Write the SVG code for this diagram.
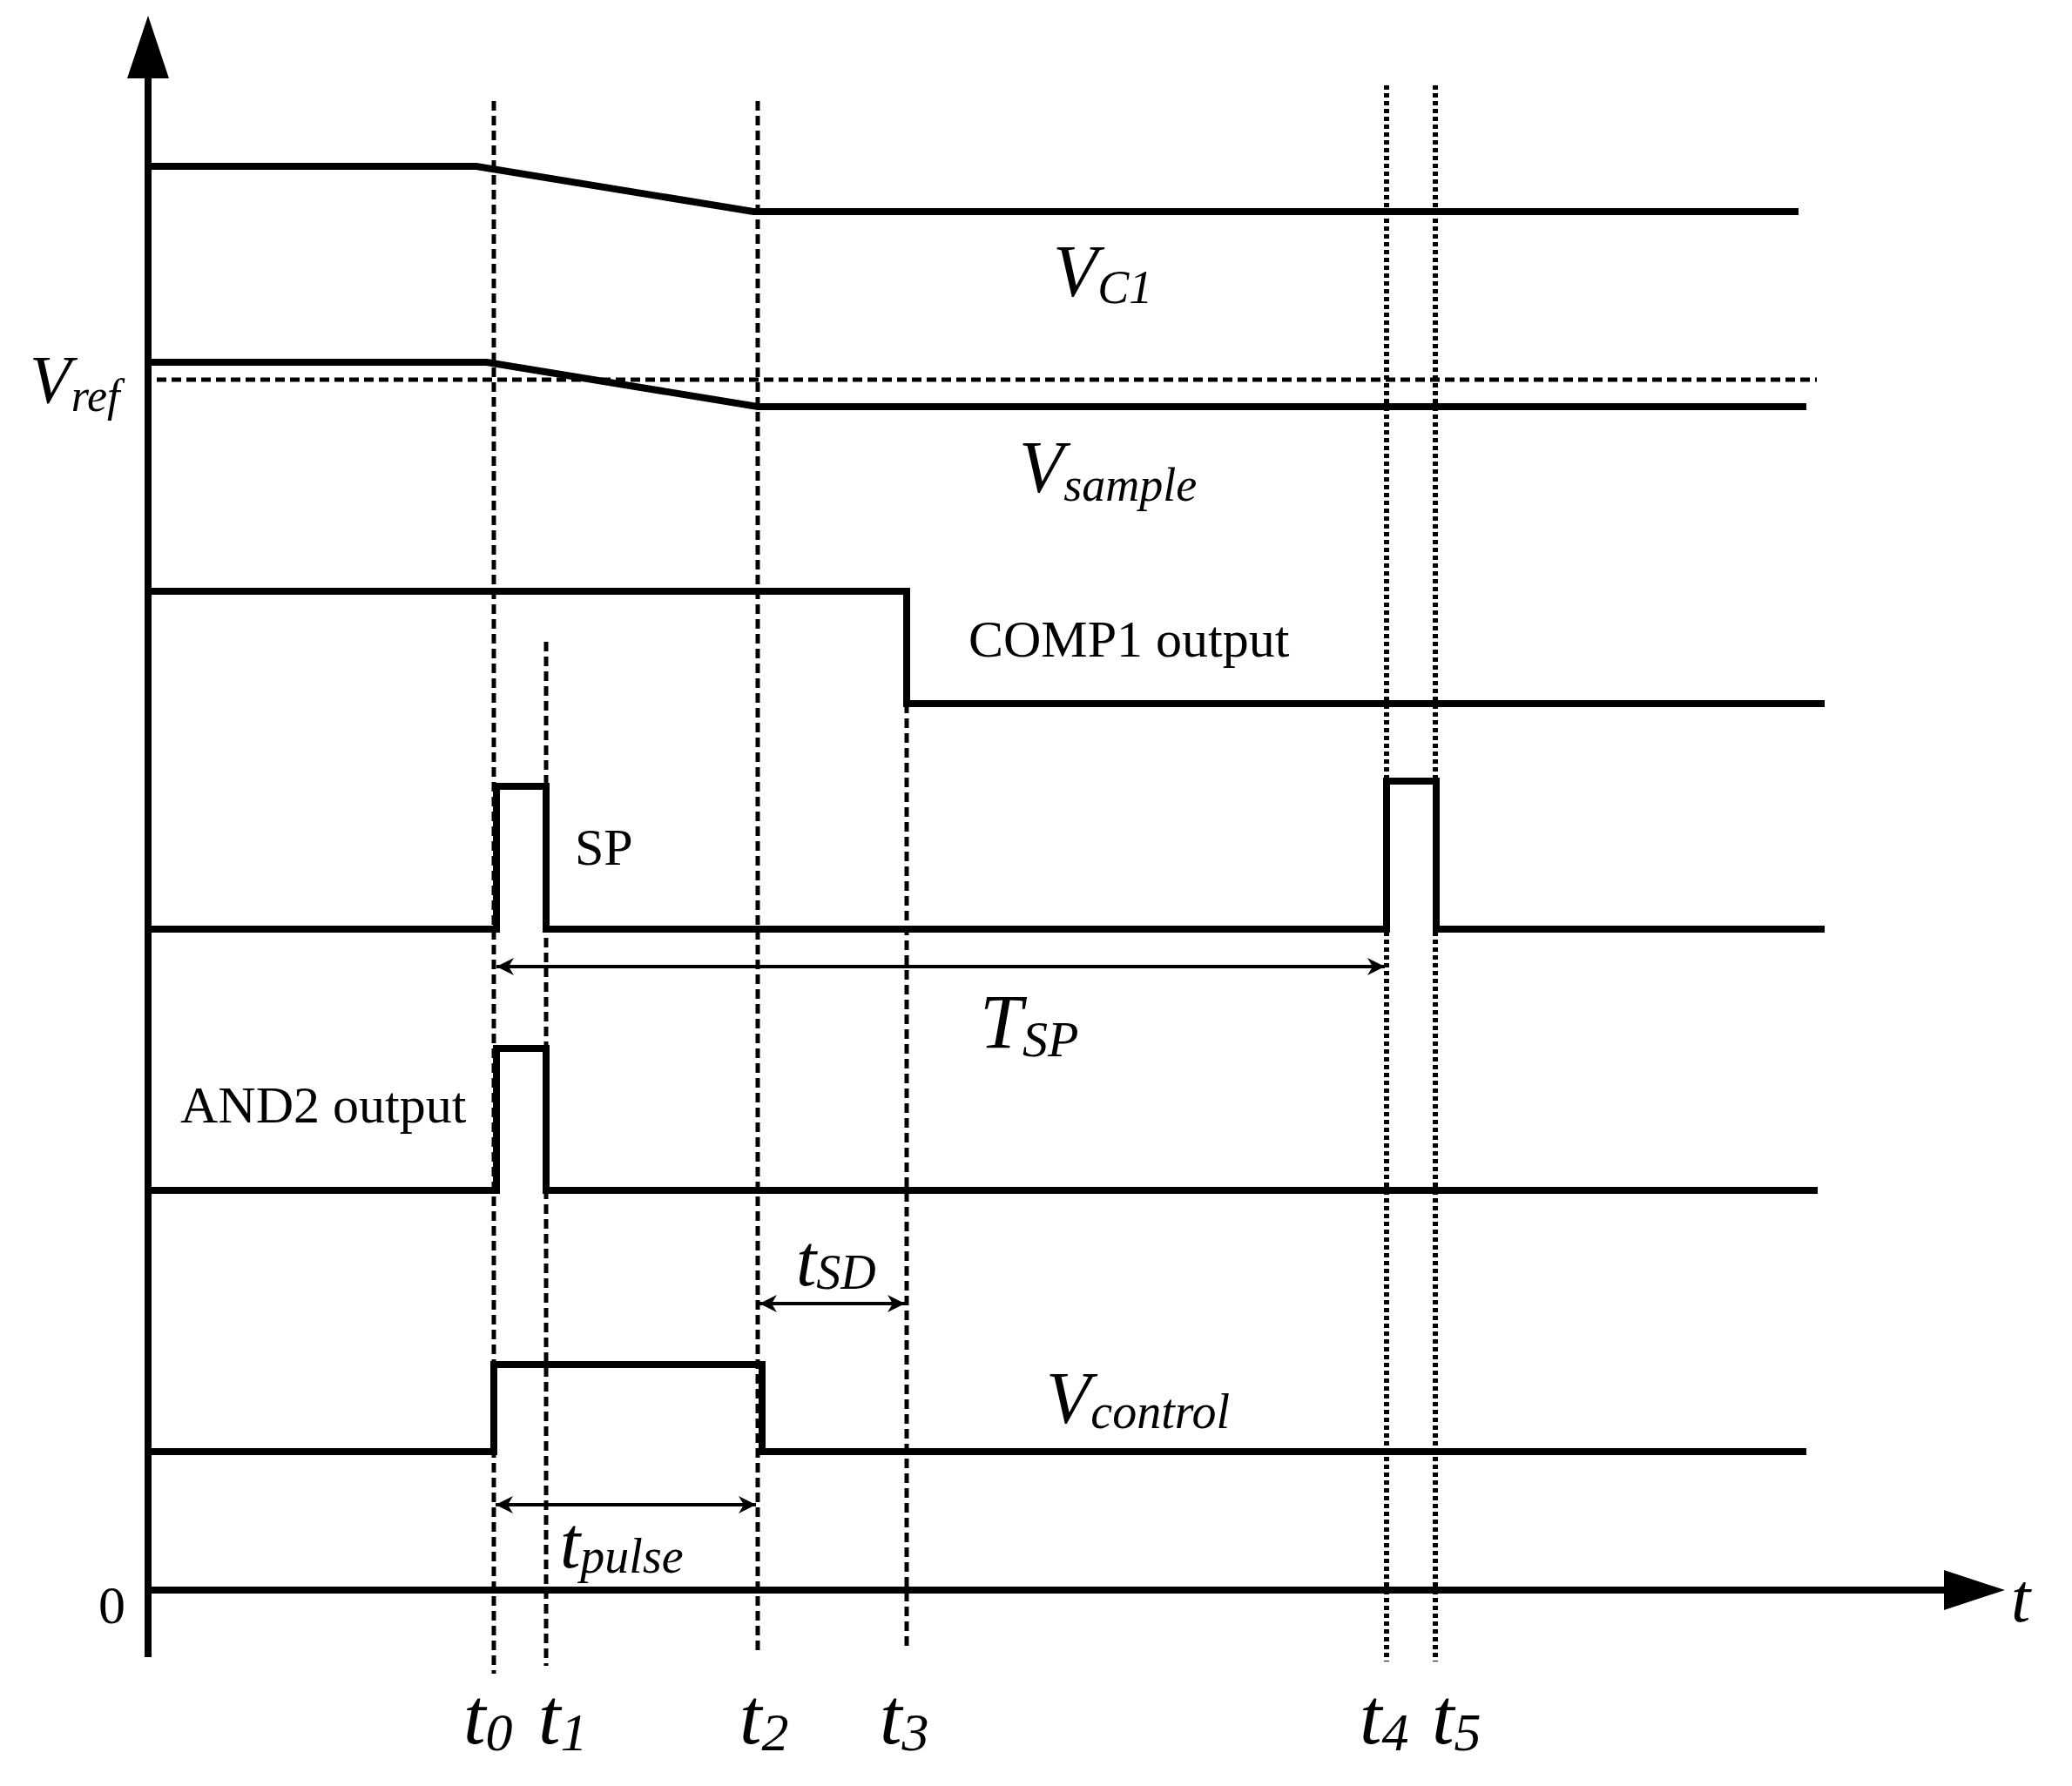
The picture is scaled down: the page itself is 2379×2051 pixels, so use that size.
<svg xmlns="http://www.w3.org/2000/svg" width="2379" height="2051" viewBox="0 0 2379 2051">
<style>
.w{fill:none;stroke:#000;stroke-width:8;stroke-linejoin:miter}
.d{fill:none;stroke:#000;stroke-width:5;stroke-dasharray:11 6}
.o{fill:none;stroke:#000;stroke-width:6;stroke-dasharray:5 4}
.a{fill:none;stroke:#000;stroke-width:4}
text{font-family:"Liberation Serif",serif;fill:#000}
.i{font-style:italic}
</style>
<defs>
<marker id="ar" viewBox="0 0 10 10" refX="10" refY="5" markerWidth="26" markerHeight="20" markerUnits="userSpaceOnUse" orient="auto-start-reverse"><path d="M0,0 L10,5 L0,10 L3,5 Z" fill="#000"/></marker>
</defs>
<g id="axes">
<line class="w" x1="170" y1="85" x2="170" y2="1903" stroke-width="9"/>
<polygon points="170,18 146,90 194,90" fill="#000"/>
<line class="w" x1="170" y1="1826" x2="2240" y2="1826" stroke-width="9"/>
<polygon points="2302,1826 2232,1803 2232,1849" fill="#000"/>
<text x="113" y="1864" font-size="62">0</text>
<text class="i" x="2309" y="1862" font-size="80">t</text>
</g>
<g id="guides">
<line class="d" x1="567" y1="116" x2="567" y2="1922"/>
<line class="d" x1="627" y1="737" x2="627" y2="1913"/>
<line class="d" x1="870" y1="116" x2="870" y2="1900"/>
<line class="d" x1="1041" y1="808" x2="1041" y2="1891"/>
<line class="o" x1="1592" y1="98" x2="1592" y2="1908"/>
<line class="o" x1="1648" y1="98" x2="1648" y2="1908"/>
<line class="d" x1="180" y1="436" x2="2086" y2="436"/>
</g>
<g id="signals">
<polyline class="w" points="170,191 547,191 865,243 2065,243"/>
<polyline class="w" points="170,416 559,416 870,467 2074,467"/>
<polyline class="w" points="170,679 1041,679 1041,808 2095,808"/>
<polyline class="w" points="170,1067 570,1067 570,903 627,903 627,1067 1592,1067 1592,897 1649,897 1649,1067 2095,1067"/>
<polyline class="w" points="170,1367 570,1367 570,1204 627,1204 627,1367 2087,1367"/>
<polyline class="w" points="170,1667 567,1667 567,1567 875,1567 875,1667 2074,1667"/>
</g>
<g id="connectors">
<line class="a" x1="570" y1="1110" x2="1590" y2="1110" stroke-width="3" marker-start="url(#ar)" marker-end="url(#ar)"/>
<line class="a" x1="872" y1="1497" x2="1039" y2="1497" marker-start="url(#ar)" marker-end="url(#ar)"/>
<line class="a" x1="569" y1="1728" x2="868" y2="1728" marker-start="url(#ar)" marker-end="url(#ar)"/>
</g>
<g id="labels">
<text class="i" x="34" y="462" font-size="78">V<tspan font-size="52" dy="10">ref</tspan></text>
<text class="i" x="1209" y="340" font-size="84">V<tspan font-size="54" dy="8">C1</tspan></text>
<text class="i" x="1170" y="565" font-size="84">V<tspan font-size="54" dy="10">sample</tspan></text>
<text x="1112" y="754" font-size="60">COMP1 output</text>
<text x="660" y="993" font-size="60">SP</text>
<text class="i" x="1125" y="1203" font-size="88">T<tspan font-size="58" dy="10">SP</tspan></text>
<text x="207" y="1289" font-size="60">AND2 output</text>
<text class="i" x="914" y="1476" font-size="84">t<tspan font-size="56" dy="4">SD</tspan></text>
<text class="i" x="1201" y="1634" font-size="84">V<tspan font-size="56" dy="6">control</tspan></text>
<text class="i" x="643" y="1800" font-size="84">t<tspan font-size="56" dy="6">pulse</tspan></text>
<text class="i" x="532" y="2002" font-size="92">t<tspan font-size="62" dy="8">0</tspan></text>
<text class="i" x="618" y="2002" font-size="92">t<tspan font-size="62" dy="8">1</tspan></text>
<text class="i" x="849" y="2002" font-size="92">t<tspan font-size="62" dy="8">2</tspan></text>
<text class="i" x="1010" y="2002" font-size="92">t<tspan font-size="62" dy="8">3</tspan></text>
<text class="i" x="1561" y="2002" font-size="92">t<tspan font-size="62" dy="8">4</tspan></text>
<text class="i" x="1644" y="2002" font-size="92">t<tspan font-size="62" dy="8">5</tspan></text>
</g>
</svg>
